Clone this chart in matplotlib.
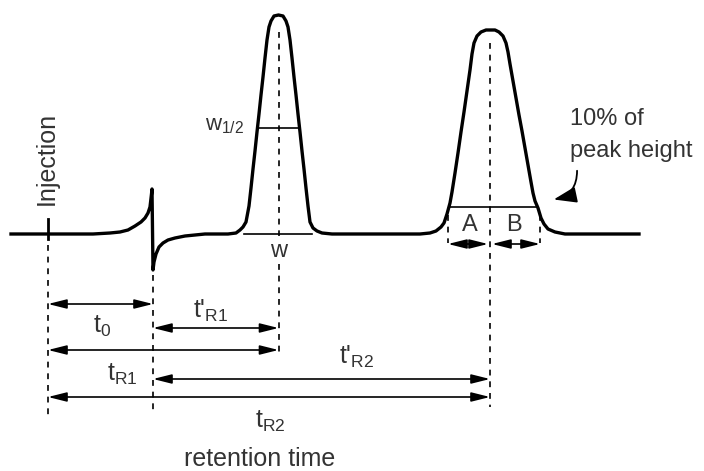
import matplotlib
import matplotlib.pyplot as plt
from matplotlib.patches import FancyArrowPatch

matplotlib.use('Agg')

plt.rcParams['font.family'] = ['Liberation Sans', 'DejaVu Sans']
plt.rcParams['mathtext.fontset'] = 'custom'
plt.rcParams['mathtext.rm'] = 'Liberation Sans'
plt.rcParams['mathtext.default'] = 'regular'

# Chromatogram trace (time, detector signal), baseline = 0
trace_t = [11, 93, 110, 120, 128, 135, 141, 145, 148, 150, 151.5, 152,
           153, 154, 156, 159, 163, 168, 175, 185, 195, 205,
           228, 236, 240, 243, 246, 249, 251, 253, 255, 257, 259, 261, 263, 265, 267,
           269, 271, 274, 278.5, 283, 286, 288, 290, 292, 294, 296, 298, 300, 302,
           304, 306, 308, 310, 313, 317, 322, 332,
           420, 430, 436, 441, 444, 447, 450, 452, 455, 458, 461, 464, 467, 470,
           472, 474, 477, 481, 486, 490, 495, 499, 503, 506, 508, 510, 513, 516,
           519, 522, 525, 528, 531, 533, 535, 538, 541, 544, 548, 555, 565, 639]
trace_s = [0, 0, 1, 2, 4, 8, 12, 16, 21, 27, 40, 45,
           -36, -28, -20, -13, -9, -6, -4, -2, -1, 0,
           0, 1, 4, 7, 12, 28, 46, 65, 83, 102, 120, 139, 157, 176, 194,
           207, 213, 218, 219, 218, 213, 207, 194, 176, 157, 139, 120, 102, 83,
           65, 46, 28, 12, 6, 3, 1, 0,
           0, 1, 3, 7, 11, 20, 31, 42, 61, 81, 102, 122, 143, 164,
           180, 191, 198, 202, 204, 204, 204, 202, 198, 191, 182, 170, 153, 136,
           119, 103, 86, 69, 52, 41, 33, 26, 16, 10, 5, 2, 0, 0]

t_inj, t0, tR1, tR2 = 48, 153, 278.5, 490
w_half = (258, 298, 106)      # left, right, signal level
w_base = (244, 312)
ten_pct = (450, 538, 27)
A_B = (448, 488, 492, 540)

text_col = '#333333'

fig = plt.figure(figsize=(7.04, 4.71), dpi=100)
ax = fig.add_axes([0, 0, 1, 1])
ax.set_xlim(0, 704)
ax.set_ylim(-237, 234)
ax.axis('off')

# trace
ax.plot(trace_t, trace_s, color='black', lw=2.4, solid_joinstyle='round')

# injection mark
ax.plot([t_inj, t_inj], [15, -5], color='black', lw=2)
ax.text(t_inj - 1, 76, 'Injection', rotation=90, ha='center', va='center',
        fontsize=18, color=text_col)

# dashed guide lines
dash = dict(color='black', lw=1.2, linestyle=(0, (3.5, 3.5)))
ax.plot([t_inj, t_inj], [-11, -181], **dash)
ax.plot([t0, t0], [-41, -181], **dash)
ax.plot([tR1, tR1], [202, -2], **dash)
ax.plot([tR1, tR1], [-30, -118], **dash)
ax.plot([tR2, tR2], [191, -173], **dash)
ax.plot([A_B[0], A_B[0]], [19, -9], **dash)
ax.plot([A_B[3], A_B[3]], [19, -9], **dash)

# width lines
ax.plot([w_base[0], w_base[1]], [0, 0], color='black', lw=1.2)
ax.plot([w_half[0], w_half[1]], [w_half[2], w_half[2]], color='black', lw=1.2)
ax.plot([ten_pct[0], ten_pct[1]], [ten_pct[2], ten_pct[2]], color='black', lw=1.2)


def darrow(x1, x2, y):
    ax.annotate('', xy=(x2, y), xytext=(x1, y),
                arrowprops=dict(arrowstyle='<|-|>,head_length=0.8,head_width=0.2',
                                shrinkA=0, shrinkB=0, lw=1.2, color='black',
                                mutation_scale=14))


darrow(A_B[0], A_B[1], -10)
darrow(A_B[2], A_B[3], -10)
darrow(t_inj, t0, -70)
darrow(t0, tR1, -94)
darrow(t_inj, tR1, -116)
darrow(t0, tR2, -145)
darrow(t_inj, tR2, -163)

# labels
ax.text(470, 9, 'A', ha='center', va='center', fontsize=17, color=text_col)
ax.text(514, 9, 'B', ha='center', va='center', fontsize=17, color=text_col)
ax.text(tR1, -17, 'w', ha='center', va='center', fontsize=17, color=text_col)
ax.text(244, 108, 'w$_{1/2}$', ha='right', va='center', fontsize=16, color=text_col)
ax.text(102, -92, 't$_0$', ha='center', va='center', fontsize=18, color=text_col)
ax.text(211, -77, "t'$_{R1}$", ha='center', va='center', fontsize=18, color=text_col)
ax.text(122, -140, 't$_{R1}$', ha='center', va='center', fontsize=18, color=text_col)
ax.text(357, -123, "t'$_{R2}$", ha='center', va='center', fontsize=18, color=text_col)
ax.text(270, -187, 't$_{R2}$', ha='center', va='center', fontsize=18, color=text_col)
ax.text(260, -225, 'retention time', ha='center', va='center', fontsize=18, color=text_col)
ax.text(570, 109, '10% of', ha='left', va='baseline', fontsize=17, color=text_col)
ax.text(570, 77, 'peak height', ha='left', va='baseline', fontsize=17, color=text_col)

# curved pointer to the 10% line
ax.add_patch(FancyArrowPatch((577, 66), (551, 34),
                             connectionstyle='arc3,rad=-0.45',
                             arrowstyle='-|>,head_length=1.0,head_width=0.35',
                             mutation_scale=14, lw=1.3, color='black'))

fig.savefig('out.png', dpi=100)
